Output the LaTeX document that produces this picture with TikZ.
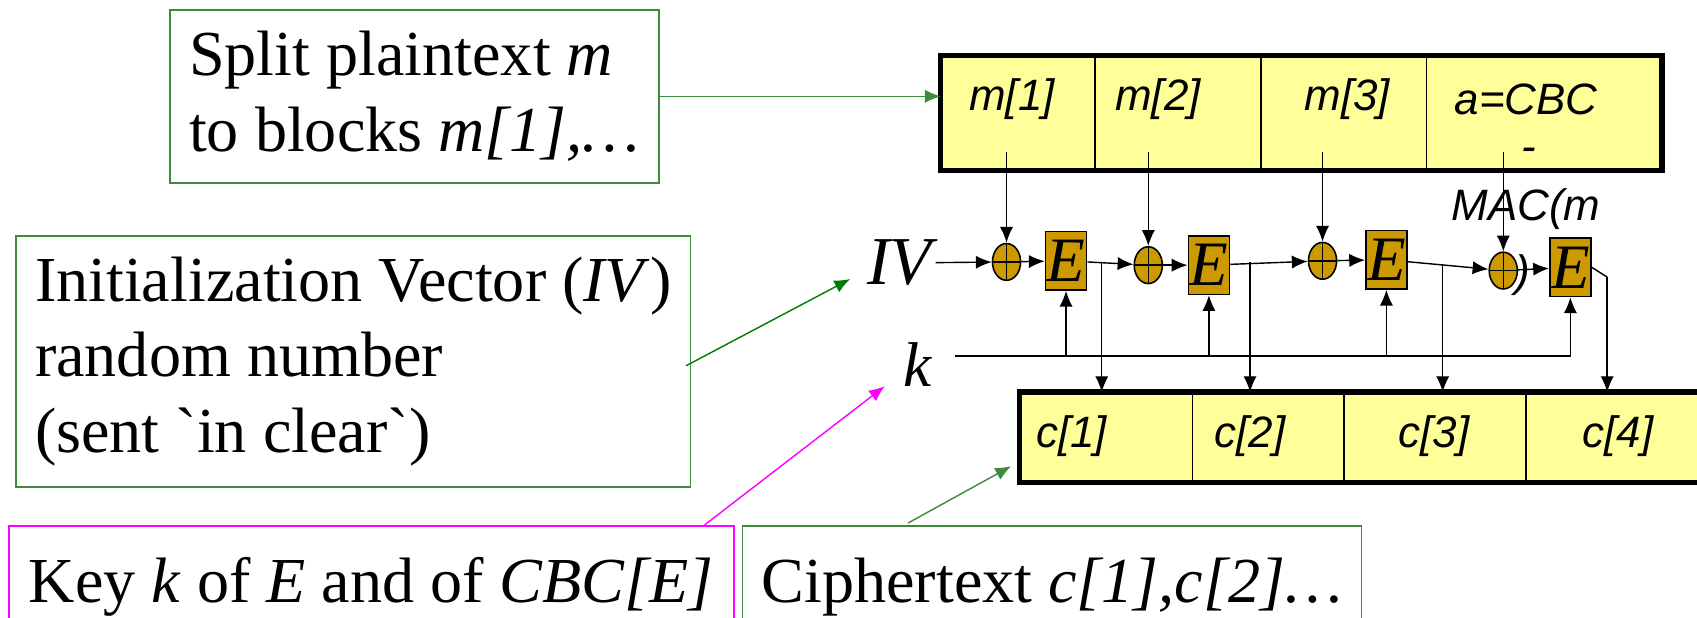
\documentclass[tikz,border=0pt]{standalone}
\usepackage{fontspec}
\setmainfont{Liberation Serif}
\setsansfont{Liberation Sans}
\usetikzlibrary{shapes.geometric,arrows.meta,calc}
\definecolor{gold}{HTML}{CC9900}
\definecolor{pale}{HTML}{FFFF99}
\definecolor{notegreen}{HTML}{3C8C3C}
\definecolor{darkgreen}{HTML}{007A00}
\definecolor{pink}{HTML}{FF00FF}
\def\u{0.6159pt}

\begin{document}
\begin{tikzpicture}[x=\u, y=-\u,%
  note/.style={draw=notegreen,line width=1pt,align=left,inner xsep=4pt,inner ysep=0pt,font=\fontsize{36.5}{43}\selectfont},
  blk/.style={draw,fill=pale,line width=0.9pt,inner sep=0pt},
  frame/.style={line width=3pt},
  lbl/.style={font=\sffamily\itshape\fontsize{25}{30}\selectfont,inner sep=1pt},
  enc/.style={draw,fill=gold,line width=0.9pt,minimum width=38*\u,minimum height=54*\u,inner sep=0pt,font=\itshape\fontsize{36}{36}\selectfont},
  xor/.style={ellipse,draw,fill=gold,line width=0.9pt,minimum width=26*\u,minimum height=34*\u,inner sep=0pt,
    path picture={\draw (path picture bounding box.north) -- (path picture bounding box.south)
      (path picture bounding box.west) -- (path picture bounding box.east);}},
  wire/.style={->,line width=0.8pt},
  big/.style={font=\itshape\fontsize{#1}{#1}\selectfont,inner sep=2pt},
  >={Latex[length=9pt,width=7.5pt]}]
  \useasboundingbox (0,0) rectangle (1568,571);

  \node[note,minimum width=452*\u,minimum height=160*\u] (split) at (383,89)
    {Split plaintext \textit{m}\\to blocks \textit{m[1],\ldots}};
  \node[note,minimum width=623*\u,minimum height=232*\u] (init) at (326.5,334)
    {Initialization Vector (\textit{IV})\\random number\\(sent \textasciigrave in clear\textasciigrave)};
  \node[note,draw=pink,minimum width=670*\u,minimum height=112*\u] (key) at (343,542)
    {Key \textit{k} of \textit{E} and of \textit{CBC[E]}};
  \node[note,minimum width=572*\u,minimum height=112*\u] (ciph) at (972,542)
    {Ciphertext \textit{c[1],c[2]\ldots}};

  \node[blk,minimum width=142*\u,minimum height=105*\u] (m1) at (941,104.5) {};
  \node[blk,minimum width=153*\u,minimum height=105*\u] (m2) at (1088.5,104.5) {};
  \node[blk,minimum width=153*\u,minimum height=105*\u] (m3) at (1241.5,104.5) {};
  \node[blk,minimum width=217*\u,minimum height=105*\u] (m4) at (1426.5,104.5) {};
  \draw[frame] (m1.north west) rectangle (m4.south east);
  \node[lbl] (t1) at (935,92) {m[1]};
  \node[lbl] (t2) at (1070,92) {m[2]};
  \node[lbl] (t3) at (1245,92) {m[3]};
  \node[lbl] (t4) at (1410,92) {a=CBC};
  \node[lbl] (dash) at (1413,143) {-};

  \node[blk,minimum width=159*\u,minimum height=82*\u] (c1) at (1022.5,404) {};
  \node[blk,minimum width=140*\u,minimum height=82*\u] (c2) at (1172,404) {};
  \node[blk,minimum width=168*\u,minimum height=82*\u] (c3) at (1326,404) {};
  \node[blk,minimum width=170*\u,minimum height=82*\u] (c4) at (1495,404) {};
  \draw[frame] (c1.north west) rectangle (c4.south east);
  \node[lbl] (u1) at (990,403) {c[1]};
  \node[lbl] (u2) at (1155,403) {c[2]};
  \node[lbl] (u3) at (1325,403) {c[3]};
  \node[lbl] (u4) at (1495,403) {c[4]};

  \node[big=39] (iv) at (831,243) {IV};
  \node[big=36] (k) at (848,337) {k};
  \coordinate (k0) at (882,329);

  \node[xor] (xor1) at (930,242) {};
  \node[xor] (xor2) at (1061,245) {};
  \node[xor] (xor3) at (1222,241) {};
  \node[xor] (xor4) at (1389,250) {};
  \node[enc] (E1) at (985,241) {E};
  \node[enc] (E2) at (1117,245) {E};
  \node[enc] (E3) at (1281,240) {E};
  \node[enc] (E4) at (1451,247) {E};
  \node[lbl] (mac) at (1410,193) {MAC(m};
  \node[lbl] (rpar) at (1407,254) {)};

  \coordinate (o1) at (1018,242);
  \coordinate (o2) at (1155,242);
  \coordinate (o3) at (1333,244);
  \coordinate (o4) at (1485,256);

  \draw[wire] (iv) -- (xor1);
  \draw[wire] (xor1) -- (E1);
  \draw[wire] (E1) -- (xor2);
  \draw[wire] (xor2) -- (E2);
  \draw[wire] (E2) -- (xor3);
  \draw[wire] (xor3) -- (E3);
  \draw[wire] (E3) -- (xor4);
  \draw[wire] (xor4) -- (E4);
  \draw[line width=0.8pt] (E4.east) -- (o4);
  \foreach \i in {1,...,4}
    \draw[wire] (xor\i |- m\i.south) ++(0,-17) -- (xor\i.north);
  \foreach \i in {1,...,4}
    \draw[wire] (o\i) -- (o\i |- c\i.north);
  \draw[wire] (k0) -| (E4.south);
  \foreach \e in {E1,E2,E3}
    \draw[wire] (k0 -| \e.south) -- (\e.south);

  \draw[->,draw=notegreen,fill=notegreen,line width=0.8pt] (split.east) -- (m1.west |- split.east);
  \draw[->,draw=darkgreen,fill=darkgreen,line width=0.8pt] ($(init.east)+(-5,4)$) -- ($(iv.south west)+(-12,-10)$);
  \draw[->,draw=pink,fill=pink,line width=0.8pt] ($(key.north east)+(-28,0)$) -- ($(k.south west)+(-14,-4)$);
  \draw[->,draw=notegreen,fill=notegreen,line width=0.8pt] ($(ciph.north west)+(154,-2)$) -- ($(c1.south west)+(-8,-15)$);
\end{tikzpicture}
\end{document}
